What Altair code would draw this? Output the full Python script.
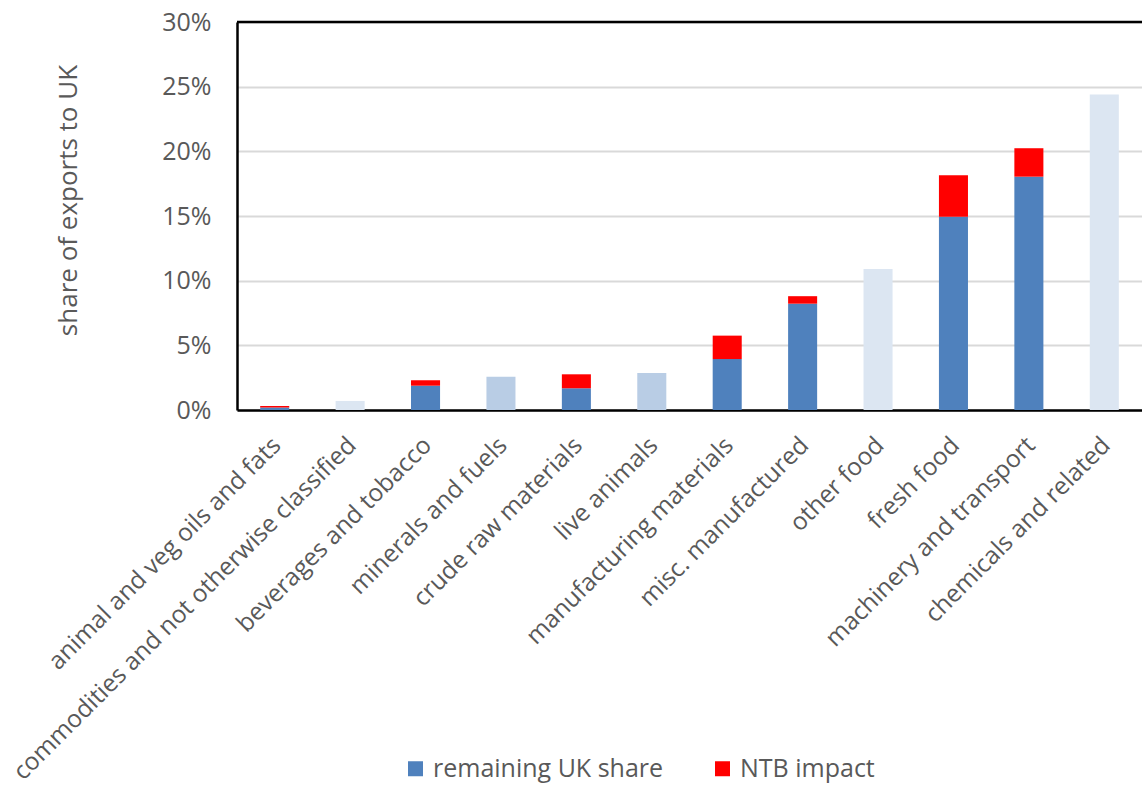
import altair as alt
import pandas as pd

categories = [
    "animal and veg oils and fats",
    "commodities and not otherwise classified",
    "beverages and tobacco",
    "minerals and fuels",
    "crude raw materials",
    "live animals",
    "manufacturing materials",
    "misc. manufactured",
    "other food",
    "fresh food",
    "machinery and transport",
    "chemicals and related",
]
# remaining UK share (dark blue), NTB impact (red), totals without NTB split (light blues)
remaining = [0.0020, None, 0.0188, None, 0.0168, None, 0.0394, 0.0822, None, 0.1495, 0.1804, None]
ntb = [0.0011, None, 0.0042, None, 0.0108, None, 0.0181, 0.0058, None, 0.0320, 0.0220, None]
light = [None, 0.0070, None, None, None, None, None, None, 0.1090, None, None, 0.2439]
light2 = [None, None, None, 0.0258, None, 0.0286, None, None, None, None, None, None]

series_names = ["remaining UK share", "NTB impact", "light", "light2"]
series_colors = ["#4F81BD", "#FF0000", "#DCE6F2", "#B9CDE5"]

rows = []
for i, c in enumerate(categories):
    for k, vals in enumerate([remaining, ntb, light, light2]):
        v = vals[i]
        if v is not None:
            rows.append({"category": c, "series": series_names[k], "value": v, "order": k})
df = pd.DataFrame(rows)

W, H = 905, 388
FONT = "Open Sans"
TXT = "#595959"

yscale = alt.Scale(domain=[0, 0.30], nice=False)

bars = alt.Chart(df).mark_bar().encode(
    x=alt.X("category:N", sort=categories,
            scale=alt.Scale(paddingInner=0.615, paddingOuter=0.3075),
            axis=alt.Axis(title=None, labelAngle=-45, labelFontSize=24.5, labelColor=TXT,
                          labelFont=FONT, ticks=False, domainColor="#000000",
                          domainWidth=2.5, labelPadding=23, labelOffset=-6,
                          labelLimit=700, grid=False)),
    y=alt.Y("value:Q", stack="zero", scale=yscale,
            axis=alt.Axis(title="share of exports to UK", format=".0%",
                          values=[0, 0.05, 0.10, 0.15, 0.20, 0.25, 0.30],
                          labelFontSize=25, labelColor=TXT, labelFont=FONT,
                          titleFontSize=26, titleColor=TXT, titleFont=FONT,
                          titleFontWeight="normal", titleX=-156, titleY=178,
                          ticks=False, labelPadding=26, domainColor="#000000",
                          domainWidth=2.5, gridColor="#D9D9D9", gridWidth=2)),
    color=alt.Color("series:N", title=None,
                    scale=alt.Scale(domain=series_names, range=series_colors),
                    legend=alt.Legend(values=["remaining UK share", "NTB impact"],
                                      orient="none", legendX=166, legendY=734,
                                      direction="horizontal", symbolType="square",
                                      symbolSize=225, symbolStrokeWidth=0,
                                      labelFontSize=25, labelColor=TXT, labelFont=FONT,
                                      labelLimit=500, columnPadding=46, labelOffset=5)),
    order=alt.Order("order:Q", sort="ascending"),
)

top_rule = alt.Chart(pd.DataFrame({"y": [0.30]})).mark_rule(color="#000000", strokeWidth=2.5).encode(
    y=alt.Y("y:Q", scale=yscale),
    x=alt.value(0), x2=alt.value(W),
)

chart = alt.layer(bars, top_rule).properties(
    width=W, height=H,
    autosize=alt.AutoSizeParams(type="none"),
    padding={"left": 237, "top": 22, "right": 0, "bottom": 377},
).configure_view(stroke=None).configure(background="#FFFFFF")

chart.save("out.html", embed_options={"renderer": "svg", "actions": False})
